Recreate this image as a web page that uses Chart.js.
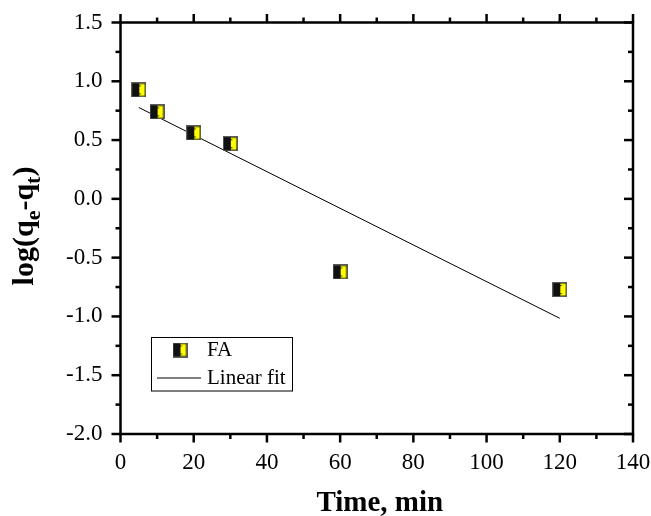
<!DOCTYPE html>
<html>
<head>
<meta charset="utf-8">
<script src="https://cdn.jsdelivr.net/npm/chart.js@4/dist/chart.umd.min.js"></script>
<style>
  html,body{margin:0;padding:0;background:#fff;}
  canvas{display:block;}
</style>
</head>
<body>
<canvas id="c" width="651" height="516"></canvas>
<script>
// ---- data ----
const timeMin = [5, 10, 20, 30, 60, 120];
const logQ = [0.927, 0.74, 0.561, 0.469, -0.622, -0.772];
const fitTime = [5, 120];
const fitLogQ = [0.777, -1.016];
const xTickValues = [0, 20, 40, 60, 80, 100, 120, 140];
const yTickValues = [-2.0, -1.5, -1.0, -0.5, 0.0, 0.5, 1.0, 1.5];
const seriesLabels = ['FA', 'Linear fit'];

const FONT = '"Liberation Serif", "Times New Roman", serif';

// half-filled square marker
function makeMarker(){
  const s = 15;
  const c = document.createElement('canvas');
  c.width = s; c.height = s;
  const g = c.getContext('2d');
  g.fillStyle = '#111';
  g.fillRect(0, 0, s, s);
  g.fillStyle = '#ffff00';
  g.fillRect(8, 1.5, 5.5, s - 3);
  g.fillStyle = '#333';
  g.fillRect(8, 3, 1.5, 1);
  g.fillRect(8, 11, 1.5, 1);
  g.strokeStyle = 'rgba(110,110,110,0.8)';
  g.lineWidth = 1;
  g.strokeRect(0.5, 0.5, s - 1, s - 1);
  return c;
}
const marker = makeMarker();

function zeroPad(s){ s.paddingLeft = 0; s.paddingRight = 0; s.paddingTop = 0; s.paddingBottom = 0; }

const framePlugin = {
  id: 'frame',
  afterDraw(chart){
    const {ctx, chartArea: a, scales: {x, y}} = chart;
    ctx.save();
    ctx.strokeStyle = '#000';
    ctx.lineWidth = 2.5;
    ctx.strokeRect(a.left, a.top, a.right - a.left, a.bottom - a.top);
    const seg = (x1, y1, x2, y2) => { ctx.beginPath(); ctx.moveTo(x1, y1); ctx.lineTo(x2, y2); ctx.stroke(); };
    // x ticks (every 10, major every 20)
    for (let i = 0; i <= 14; i++){
      const v = i * 10;
      const px = x.getPixelForValue(v);
      const L = (i % 2 === 0) ? 8.5 : 5;
      seg(px, a.bottom, px, a.bottom + L);
      seg(px, a.top, px, a.top - L);
    }
    // y ticks (every 0.25, major every 0.5)
    for (let i = 0; i <= 14; i++){
      const v = -2 + i * 0.25;
      const py = y.getPixelForValue(v);
      const L = (i % 2 === 0) ? 9 : 5;
      seg(a.left, py, a.left - L, py);
      seg(a.right, py, a.right - L, py);
    }

    // axis titles
    ctx.fillStyle = '#000';
    ctx.font = 'bold 29px ' + FONT;
    ctx.textAlign = 'center';
    ctx.textBaseline = 'alphabetic';
    ctx.fillText('Time, min', (a.left + a.right) / 2 + 3, 511);

    const big = 'bold 30px ' + FONT, small = 'bold 22px ' + FONT;
    const parts = [['log(q', big, 0], ['e', small, 7], ['-q', big, 0], ['t', small, 7], [')', big, 0]];
    ctx.save();
    ctx.translate(33, 226);
    ctx.rotate(-Math.PI / 2);
    ctx.textAlign = 'left';
    let total = 0;
    parts.forEach(p => { ctx.font = p[1]; total += ctx.measureText(p[0]).width; });
    let cx = -total / 2;
    parts.forEach(p => { ctx.font = p[1]; ctx.fillText(p[0], cx, p[2]); cx += ctx.measureText(p[0]).width; });
    ctx.restore();

    // legend
    const ds = chart.data.datasets;
    ctx.lineWidth = 1;
    ctx.strokeRect(151.5, 337.5, 141, 53.5);
    ctx.drawImage(marker, 180 - 7.5, 350 - 7.5);
    ctx.font = '21px ' + FONT;
    ctx.textAlign = 'left';
    ctx.textBaseline = 'middle';
    ctx.fillText(ds[0].label, 207, 350);
    seg(157, 378, 201, 378);
    ctx.fillText(ds[1].label, 207, 378);
    ctx.restore();
  }
};

new Chart(document.getElementById('c'), {
  type: 'scatter',
  data: {
    datasets: [
      {
        label: seriesLabels[0],
        data: timeMin.map((t, i) => ({x: t, y: logQ[i]})),
        pointStyle: marker,
        pointRadius: 8,
        order: 0
      },
      {
        label: seriesLabels[1],
        data: fitTime.map((t, i) => ({x: t, y: fitLogQ[i]})),
        showLine: true,
        borderColor: '#000',
        borderWidth: 1,
        pointRadius: 0,
        order: 1
      }
    ]
  },
  options: {
    responsive: false,
    animation: false,
    devicePixelRatio: 1,
    layout: {padding: {left: 0, right: 18, top: 22.5, bottom: 0}},
    plugins: {legend: {display: false}, tooltip: {enabled: false}},
    scales: {
      x: {
        type: 'linear', min: 0, max: 140,
        afterBuildTicks: s => { s.ticks = xTickValues.map(v => ({value: v})); },
        afterFit: s => { s.height = 82; zeroPad(s); },
        grid: {display: false, drawTicks: false},
        border: {display: false},
        ticks: {font: {family: FONT, size: 23}, color: '#000', padding: 15, maxRotation: 0,
                callback: v => String(v)}
      },
      y: {
        type: 'linear', min: -2, max: 1.5,
        afterBuildTicks: s => { s.ticks = yTickValues.map(v => ({value: v})); },
        afterFit: s => { s.width = 120.5; zeroPad(s); },
        grid: {display: false, drawTicks: false},
        border: {display: false},
        ticks: {font: {family: FONT, size: 23}, color: '#000', padding: 18,
                callback: v => Number(v).toFixed(1)}
      }
    }
  },
  plugins: [framePlugin]
});
</script>
</body>
</html>
